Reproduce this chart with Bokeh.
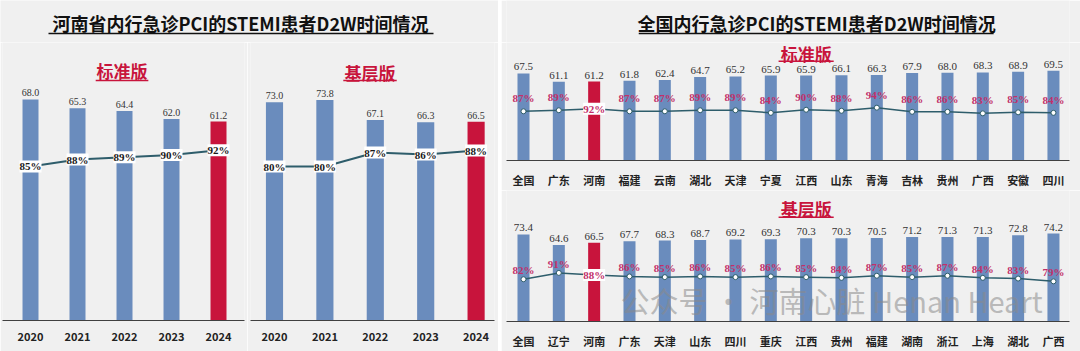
from bokeh.plotting import figure
from bokeh.layouts import row, column
from bokeh.models import Range1d, FixedTicker, ColumnDataSource, LabelSet, Label, Spacer
from bokeh.embed import file_html
from bokeh.resources import INLINE

# ---------------- data ----------------
left_title = "河南省内行急诊PCI的STEMI患者D2W时间情况"
right_title = "全国内行急诊PCI的STEMI患者D2W时间情况"
std_label = "标准版"
grass_label = "基层版"

years = ["2020", "2021", "2022", "2023", "2024"]
henan_std_d2w = [68.0, 65.3, 64.4, 62.0, 61.2]
henan_std_pct = [85, 88, 89, 90, 92]
henan_grass_d2w = [73.0, 73.8, 67.1, 66.3, 66.5]
henan_grass_pct = [80, 80, 87, 86, 88]
highlight_year = "2024"

prov_std = ["全国", "广东", "河南", "福建", "云南", "湖北", "天津", "宁夏",
            "江西", "山东", "青海", "吉林", "贵州", "广西", "安徽", "四川"]
prov_std_d2w = [67.5, 61.1, 61.2, 61.8, 62.4, 64.7, 65.2, 65.9,
                65.9, 66.1, 66.3, 67.9, 68.0, 68.3, 68.9, 69.5]
prov_std_pct = [87, 89, 92, 87, 87, 89, 89, 84, 90, 88, 94, 86, 86, 83, 85, 84]

prov_grass = ["全国", "辽宁", "河南", "广东", "天津", "山东", "四川", "重庆",
              "江西", "贵州", "福建", "湖南", "浙江", "上海", "湖北", "广西"]
prov_grass_d2w = [73.4, 64.6, 66.5, 67.7, 68.3, 68.7, 69.2, 69.3,
                  70.3, 70.3, 70.5, 71.2, 71.3, 71.3, 72.8, 74.2]
prov_grass_pct = [82, 91, 88, 86, 85, 86, 85, 86, 85, 84, 87, 85, 87, 84, 83, 79]
highlight_prov = "河南"

watermark = "公众号 · 河南心脏 Henan Heart"

# ---------------- style ----------------
BG = "#f0f0f0"
BLUE = "#6a8cbd"
RED = "#c8143c"
LINE = "#2e5d6b"
PINK = "#c2306a"
FONT = "Noto Sans CJK SC"


def base_fig(w, h, xr, yr, ml, mr, mt, mb):
    p = figure(width=w, height=h, x_range=Range1d(*xr), y_range=Range1d(*yr),
               output_backend="svg", toolbar_location=None,
               min_border_left=ml, min_border_right=mr,
               min_border_top=mt, min_border_bottom=mb)
    p.background_fill_color = BG
    p.border_fill_color = BG
    p.outline_line_color = None
    p.grid.visible = False
    p.yaxis.visible = False
    return p


def style_xaxis(p, labels):
    ax = p.xaxis[0]
    ax.ticker = FixedTicker(ticks=list(range(len(labels))))
    ax.major_label_overrides = {i: l for i, l in enumerate(labels)}
    ax.major_tick_line_color = None
    ax.minor_tick_line_color = None
    ax.axis_line_color = "#404040"
    ax.axis_line_width = 1.2
    ax.major_label_text_font = FONT
    ax.major_label_text_font_style = "bold"
    ax.major_label_text_font_size = "11px"
    ax.major_label_text_color = "#222222"
    ax.major_label_standoff = 5


def subtitle(p, text, x, y, uy, uhalf, size):
    p.add_layout(Label(x=x, y=y, text=text, text_align="center", text_baseline="middle",
                       text_font=FONT, text_font_style="bold", text_font_size=size,
                       text_color=RED))
    p.segment(x0=[x - uhalf], x1=[x + uhalf], y0=[uy], y1=[uy], line_color=RED, line_width=1.5)


def year_panel(w, vals, pcts, xr, yend, pr, ml, mr, sub, sx, sy, suy, suhalf):
    p = base_fig(w, 309, xr, (0, yend), ml, mr, 0, 31)
    p.extra_y_ranges = {"pct": Range1d(*pr)}
    xs = list(range(len(years)))
    colors = [RED if y == highlight_year else BLUE for y in years]
    p.vbar(x=xs, top=vals, width=0.34, fill_color=colors, line_color=None)
    vsrc = ColumnDataSource(dict(x=xs, y=vals, t=[f"{v:.1f}" for v in vals]))
    p.add_layout(LabelSet(x="x", y="y", text="t", source=vsrc, y_offset=3,
                          text_align="center", text_baseline="bottom",
                          text_font=FONT, text_font_size="10px", text_color="#333333"))
    p.line(xs, pcts, y_range_name="pct", line_color=LINE, line_width=2)
    psrc = ColumnDataSource(dict(x=xs, y=pcts, t=[f"{v}%" for v in pcts]))
    p.add_layout(LabelSet(x="x", y="y", text="t", source=psrc, y_range_name="pct",
                          text_align="center", text_baseline="middle",
                          text_font=FONT, text_font_style="bold", text_font_size="11px",
                          text_color="#1a1a1a", background_fill_color="white"))
    subtitle(p, sub, sx, sy, suy, suhalf, "17px")
    style_xaxis(p, years)
    return p


def prov_panel(h, mb, provs, vals, pcts, yend, pr, sub, sy, suy, off):
    xr = (-0.481, 15.454)
    p = base_fig(579, h, xr, (0, yend), 5, 11, 0, mb)
    p.extra_y_ranges = {"pct": Range1d(*pr)}
    xs = list(range(len(provs)))
    colors = [RED if c == highlight_prov else BLUE for c in provs]
    p.vbar(x=xs, top=vals, width=0.34, fill_color=colors, line_color=None)
    vsrc = ColumnDataSource(dict(x=xs, y=vals, t=[f"{v:.1f}" for v in vals]))
    p.add_layout(LabelSet(x="x", y="y", text="t", source=vsrc, y_offset=3,
                          text_align="center", text_baseline="bottom",
                          text_font=FONT, text_font_size="11px", text_color="#333333"))
    p.line(xs, pcts, y_range_name="pct", line_color=LINE, line_width=1.5)
    nx = [x for x, c in zip(xs, provs) if c != highlight_prov]
    ny = [v for v, c in zip(pcts, provs) if c != highlight_prov]
    hx = [x for x, c in zip(xs, provs) if c == highlight_prov]
    hy = [v for v, c in zip(pcts, provs) if c == highlight_prov]
    p.scatter(nx, ny, y_range_name="pct", size=5, fill_color="white",
              line_color=LINE, line_width=1.0)
    nsrc = ColumnDataSource(dict(x=nx, y=ny, t=[f"{v}%" for v in ny]))
    hsrc = ColumnDataSource(dict(x=hx, y=hy, t=[f"{v}%" for v in hy]))
    p.add_layout(LabelSet(x="x", y="y", text="t", source=nsrc, y_range_name="pct",
                          y_offset=off, text_align="center", text_baseline="middle",
                          text_font=FONT, text_font_style="bold", text_font_size="11px",
                          text_color=PINK))
    p.add_layout(LabelSet(x="x", y="y", text="t", source=hsrc, y_range_name="pct",
                          text_align="center", text_baseline="middle",
                          text_font=FONT, text_font_style="bold", text_font_size="11px",
                          text_color=PINK, background_fill_color="white"))
    subtitle(p, sub, 8.0, sy, suy, 0.78, "17px")
    style_xaxis(p, provs)
    return p


def title_fig(w, text, cx, ux0, ux1):
    p = base_fig(w, 42, (0, w), (0, 42), 0, 0, 0, 0)
    p.xaxis.visible = False
    p.add_layout(Label(x=cx, y=20, text=text, text_align="center", text_baseline="middle",
                       text_font=FONT, text_font_style="bold", text_font_size="18px",
                       text_color="#111111"))
    p.segment(x0=[ux0], x1=[ux1], y0=[9], y1=[9], line_color="#111111", line_width=1.5)
    return p


tl = title_fig(498, left_title, 240, 48, 433)
l1 = year_panel(247, henan_std_d2w, henan_std_pct, (-0.596, 4.553), 85.5, (18.0, 138.9),
                2, 3, std_label, 1.947, 76.8, 73.8, 0.56)
l2 = year_panel(251, henan_grass_d2w, henan_grass_pct, (-0.476, 4.365), 93.0, (3.0, 142.0),
                3, 4, grass_label, 1.895, 83.1, 80.3, 0.53)

tr = title_fig(579, right_title, 319, 136, 501)
r1 = prov_panel(148, 22, prov_std, prov_std_d2w, prov_std_pct, 91.5, (-8.5, 220.5),
                std_label, 83.2, 77.0, 13)
r2 = prov_panel(161, 21, prov_grass, prov_grass_d2w, prov_grass_pct, 110.5, (22.0, 208.0),
                grass_label, 95.1, 88.0, 9)
r2.add_layout(Label(x=8.72, y=18.2, text=watermark, text_align="center", text_baseline="middle",
                    text_font=FONT, text_font_size="29px", text_color="#8a8a8a",
                    text_alpha=0.55))

sep = Spacer(width=3, height=351, styles={"background-color": "white"})
layout = row(column(tl, row(l1, l2, spacing=0), spacing=0), sep,
             column(tr, r1, r2, spacing=0), spacing=0)

open("out.html", "w").write(file_html(layout, INLINE))
